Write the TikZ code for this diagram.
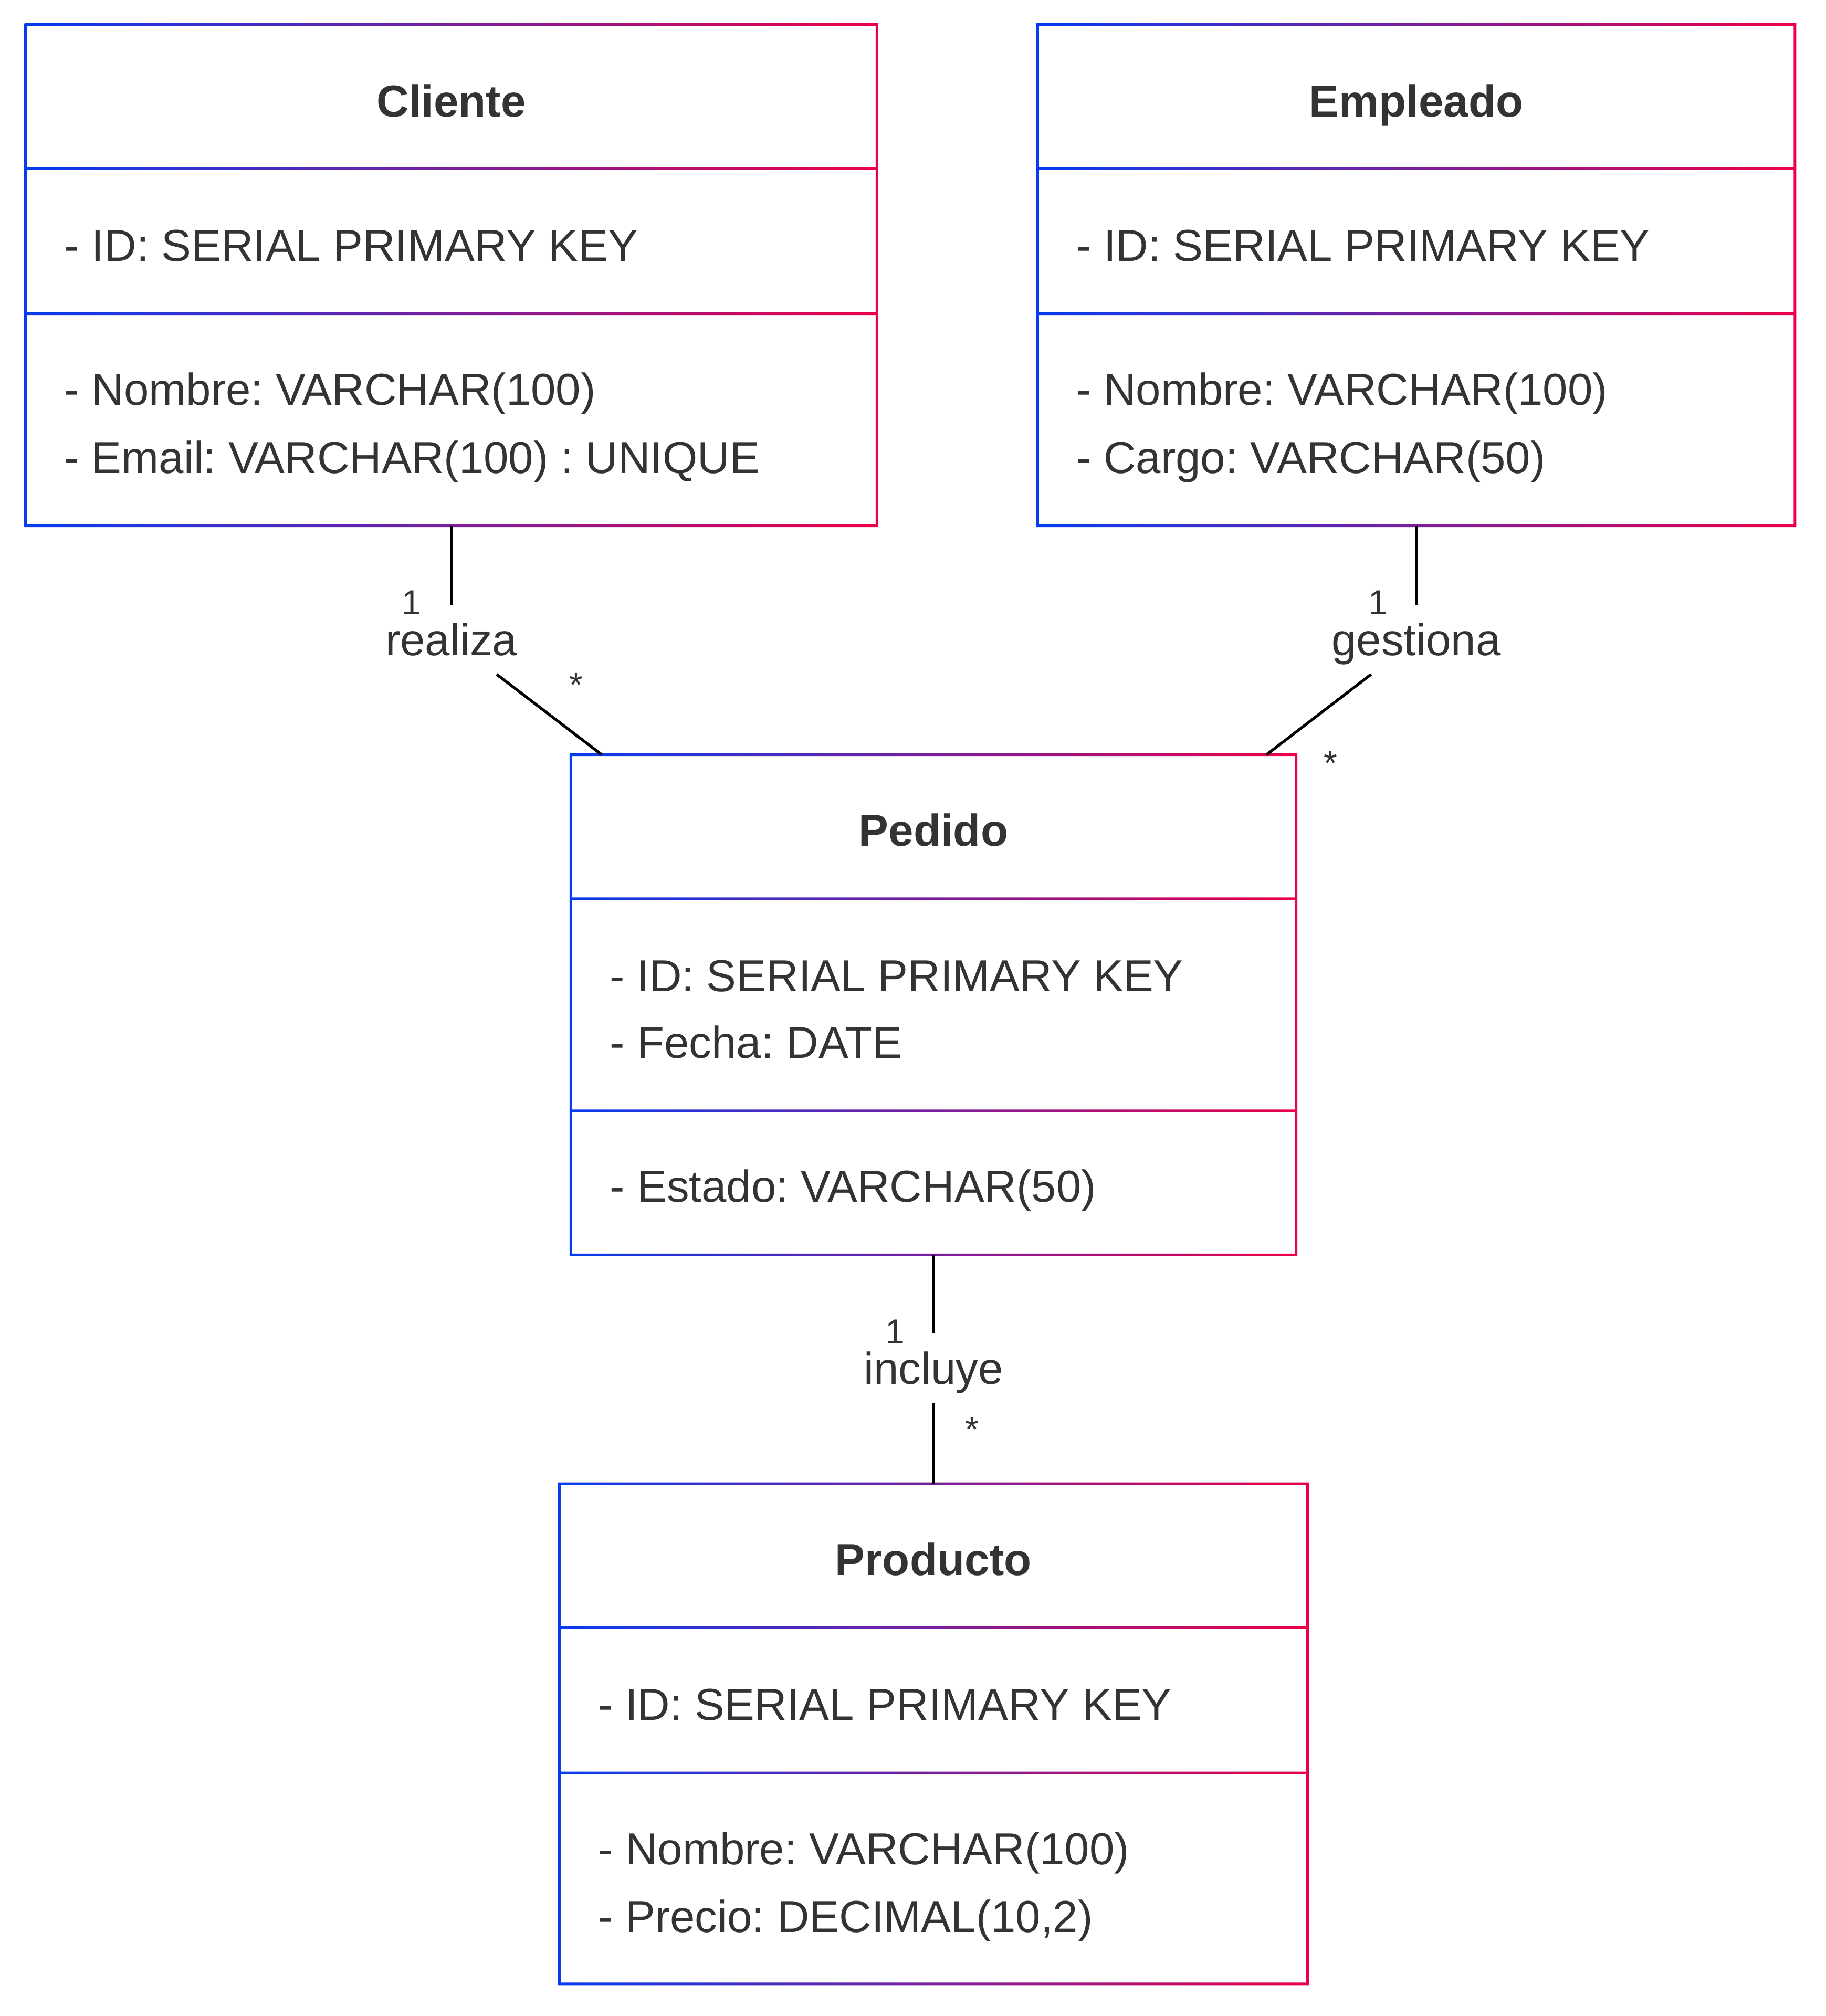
\documentclass[tikz,border=0pt]{standalone}
\usepackage{fontspec}
\setmainfont{Liberation Sans}
\usetikzlibrary{calc}
\definecolor{umlBlue}{RGB}{5,60,240}
\definecolor{umlRed}{RGB}{236,0,72}
\definecolor{umlText}{RGB}{51,51,51}
\frenchspacing

\begin{document}
\begin{tikzpicture}[x=1pt,y=1pt,yscale=-1,xscale=1,
    umlframe/.style={rectangle, inner sep=0pt, outer sep=0pt, anchor=north west},
    gradline/.style={left color=umlBlue, right color=umlRed, even odd rule},
    classtitle/.style={anchor=base, inner sep=0pt, text=umlText, font=\fontsize{34.8pt}{42pt}\selectfont\bfseries},
    member/.style={anchor=base west, inner sep=0pt, text=umlText, font=\fontsize{34.8pt}{42pt}\selectfont},
    assoclabel/.style={inner sep=0pt, outer sep=0pt, minimum height=54pt, text height=25pt, text depth=0pt, text=umlText, font=\fontsize{34.8pt}{42pt}\selectfont},
    multlabel/.style={anchor=base, inner sep=0pt, text=umlText, font=\fontsize{27pt}{32pt}\selectfont},
    assocline/.style={draw=black, line width=2.2pt}
  ]
    \useasboundingbox (0,0) rectangle (1420,1568);

    %Shape: Class boxes
    \node [umlframe, minimum width=662pt, minimum height=390pt] (cliente) at (20,19) {};
    \node [umlframe, minimum width=589pt, minimum height=390pt] (empleado) at (807,19) {};
    \node [umlframe, minimum width=564pt, minimum height=389pt] (pedido) at (444,587) {};
    \node [umlframe, minimum width=582pt, minimum height=389pt] (producto) at (435,1154) {};

    %Shape: Cliente frame with dividers
    \shade [gradline] ($(cliente.north west)+(-1,-1)$) rectangle ($(cliente.south east)+(1,1)$)
      ($(cliente.north west)+(1,1)$) rectangle ($(cliente.south east)+(-1,-1)$)
      ($(cliente.north west)+(1,111)$) rectangle ($(cliente.north east)+(-1,113)$)
      ($(cliente.north west)+(1,224)$) rectangle ($(cliente.north east)+(-1,226)$) ;
    %Shape: Empleado frame with dividers
    \shade [gradline] ($(empleado.north west)+(-1,-1)$) rectangle ($(empleado.south east)+(1,1)$)
      ($(empleado.north west)+(1,1)$) rectangle ($(empleado.south east)+(-1,-1)$)
      ($(empleado.north west)+(1,111)$) rectangle ($(empleado.north east)+(-1,113)$)
      ($(empleado.north west)+(1,224)$) rectangle ($(empleado.north east)+(-1,226)$) ;
    %Shape: Pedido frame with dividers
    \shade [gradline] ($(pedido.north west)+(-1,-1)$) rectangle ($(pedido.south east)+(1,1)$)
      ($(pedido.north west)+(1,1)$) rectangle ($(pedido.south east)+(-1,-1)$)
      ($(pedido.north west)+(1,111)$) rectangle ($(pedido.north east)+(-1,113)$)
      ($(pedido.north west)+(1,276)$) rectangle ($(pedido.north east)+(-1,278)$) ;
    %Shape: Producto frame with dividers
    \shade [gradline] ($(producto.north west)+(-1,-1)$) rectangle ($(producto.south east)+(1,1)$)
      ($(producto.north west)+(1,1)$) rectangle ($(producto.south east)+(-1,-1)$)
      ($(producto.north west)+(1,111)$) rectangle ($(producto.north east)+(-1,113)$)
      ($(producto.north west)+(1,224)$) rectangle ($(producto.north east)+(-1,226)$) ;

    % Text Node
    \node [classtitle] (cliTitle) at (351,91) {Cliente};
    \node [member] (cliAttrA) at (50,203) {- ID: SERIAL PRIMARY KEY};
    \node [member] (cliOpA) at (50,315) {- Nombre: VARCHAR(100)};
    \node [member] (cliOpB) at (50,368) {- Email: VARCHAR(100) : UNIQUE};
    % Text Node
    \node [classtitle] (empTitle) at (1101.5,91) {Empleado};
    \node [member] (empAttrA) at (837,203) {- ID: SERIAL PRIMARY KEY};
    \node [member] (empOpA) at (837,315) {- Nombre: VARCHAR(100)};
    \node [member] (empOpB) at (837,368) {- Cargo: VARCHAR(50)};
    % Text Node
    \node [classtitle] (pedTitle) at (726,658) {Pedido};
    \node [member] (pedAttrA) at (474,771) {- ID: SERIAL PRIMARY KEY};
    \node [member] (pedAttrB) at (474,823) {- Fecha: DATE};
    \node [member] (pedOpA) at (474,935) {- Estado: VARCHAR(50)};
    % Text Node
    \node [classtitle] (proTitle) at (726,1225) {Producto};
    \node [member] (proAttrA) at (465,1338) {- ID: SERIAL PRIMARY KEY};
    \node [member] (proOpA) at (465,1450) {- Nombre: VARCHAR(100)};
    \node [member] (proOpB) at (465,1503) {- Precio: DECIMAL(10,2)};

    % Association labels
    \node [assoclabel] (realiza) at (351,497.5) {realiza};
    \node [assoclabel] (gestiona) at (1101.5,497.5) {gestiona};
    \node [assoclabel] (incluye) at (726,1064) {incluye};
    \coordinate (pedA) at ($(pedido.north west)+(24,0)$);
    \coordinate (pedB) at ($(pedido.north east)+(-23,0)$);

    %Straight Lines
    \draw [assocline] (cliente.south) -- (realiza);
    \draw [assocline] (realiza) -- (pedA);
    \draw [assocline] (empleado.south) -- (gestiona);
    \draw [assocline] (gestiona) -- (pedB);
    \draw [assocline] (pedido.south) -- (incluye);
    \draw [assocline] (incluye) -- (producto.north);

    % Multiplicities
    \node [multlabel] (realizaOne) at (320,478) {1};
    \node [multlabel] (realizaMany) at (448,542) {*};
    \node [multlabel] (gestionaOne) at (1072,478) {1};
    \node [multlabel] (gestionaMany) at (1035,603) {*};
    \node [multlabel] (incluyeOne) at (696,1045) {1};
    \node [multlabel] (incluyeMany) at (756,1121) {*};

\end{tikzpicture}
\end{document}
